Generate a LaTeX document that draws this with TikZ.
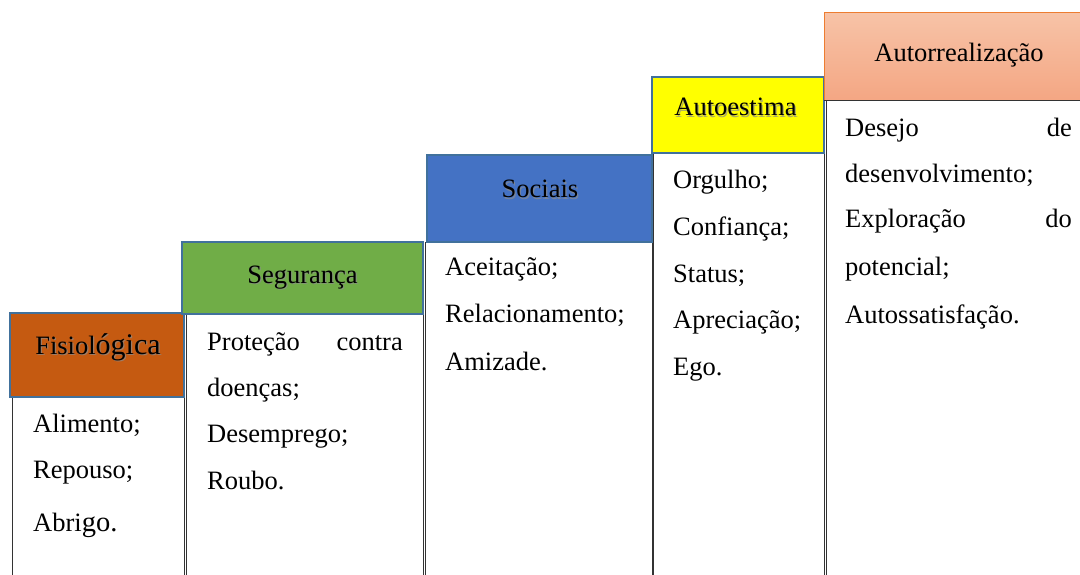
\documentclass[tikz,border=0pt]{standalone}
\usepackage{fontspec}
\setmainfont{Liberation Serif}
\definecolor{hdrline}{HTML}{41719C}
\definecolor{fisc}{HTML}{C55A11}
\definecolor{segc}{HTML}{70AD47}
\definecolor{socc}{HTML}{4472C4}
\definecolor{autc}{HTML}{FFFF00}
\definecolor{realtop}{HTML}{F7C3A7}
\definecolor{realbot}{HTML}{F4A683}
\definecolor{realline}{HTML}{ED7D31}
\tikzset{
  hdr/.style={draw=hdrline, line width=1.6pt},
  bodybox/.style={draw=black!80, line width=1pt, fill=white},
  txt/.style={anchor=base west, inner sep=0pt, font=\fontsize{26.5}{30}\selectfont},
  txtr/.style={anchor=base east, inner sep=0pt, font=\fontsize{26.5}{30}\selectfont},
  htxt/.style={anchor=base, inner sep=0pt, font=\fontsize{26.5}{30}\selectfont},
  shadowtxt/.style={anchor=base, inner sep=0pt, font=\fontsize{26.5}{30}\selectfont, text=black!45, opacity=0.7},
}
\begin{document}
\begin{tikzpicture}[x=1pt,y=-1pt]
\useasboundingbox (0,0) rectangle (1080,575);
\clip (0,0) rectangle (1080,575);
\fill[white] (0,0) rectangle (1080,575);

% bodies
\draw[bodybox] (12,397) rectangle (184,585);
\draw[bodybox] (186,314) rectangle (423,585);
\draw[bodybox] (425,242) rectangle (652,585);
\draw[bodybox] (653,154) rectangle (824,585);
\draw[bodybox] (826,101) rectangle (1095,585);

% headers
\draw[hdr, fill=fisc] (10,313) rectangle (184,397);
\draw[hdr, fill=segc] (182,242) rectangle (423,314);
\draw[hdr, fill=socc] (427,155) rectangle (652,242);
\draw[hdr, fill=autc] (652,77) rectangle (824,153);
\shade[top color=realtop, bottom color=realbot] (824,13) rectangle (1095,101);
\draw[realline, line width=1pt] (824,101) -- (824,13) -- (1095,13);
\draw[black!80, line width=1pt] (824,101) -- (1095,101);

% header texts with shadows
\node[shadowtxt] (s1) at (99.2,355.2) {Fisiol{\fontsize{30}{34}\selectfont ógica}};
\node[htxt] (h1) at (98,354) {Fisiol{\fontsize{30}{34}\selectfont ógica}};
\node[shadowtxt] (s2) at (303.7,284.2) {Segurança};
\node[htxt] (h2) at (302.5,283) {Segurança};
\node[shadowtxt] (s3) at (541.2,199.2) {Sociais};
\node[htxt] (h3) at (540,198) {Sociais};
\node[shadowtxt] (s4) at (736.7,117.2) {Autoestima};
\node[htxt] (h4) at (735.5,116) {Autoestima};
\node[htxt] (h5) at (959,62) {Autorrealização};

% Fisiologica body
\node[txt] (f1) at (33,432) {Alimento;};
\node[txt] (f2) at (33,478) {Repouso;};
\node[txt] (f3) at (33,531) {Abri{\fontsize{28.5}{32}\selectfont go.}};

% Seguranca body
\node[txt] (g1a) at (207,350) {Proteção};
\node[txtr] (g1b) at (403,350) {contra};
\node[txt] (g2) at (207,396) {doenças;};
\node[txt] (g3) at (207,442) {Desemprego;};
\node[txt] (g4) at (207,489) {Roubo.};

% Sociais body
\node[txt] (c1) at (445,276) {Aceitação;};
\node[txt] (c2) at (445,322) {Relacionamento;};
\node[txt] (c3) at (445,370) {Amizade.};

% Autoestima body
\node[txt] (a1) at (673,189) {Orgulho;};
\node[txt] (a2) at (673,236) {Confiança;};
\node[txt] (a3) at (673,282) {Status;};
\node[txt] (a4) at (673,328) {Apreciação;};
\node[txt] (a5) at (673,375) {Ego.};

% Autorrealizacao body
\node[txt] (r1a) at (845,137) {Desejo};
\node[txtr] (r1b) at (1072,137) {de};
\node[txt] (r2) at (845,183) {desenvolvimento;};
\node[txt] (r3a) at (845,228) {Exploração};
\node[txtr] (r3b) at (1072,228) {do};
\node[txt] (r4) at (845,276) {potencial;};
\node[txt] (r5) at (845,323) {Autossatisfação.};
\end{tikzpicture}
\end{document}
